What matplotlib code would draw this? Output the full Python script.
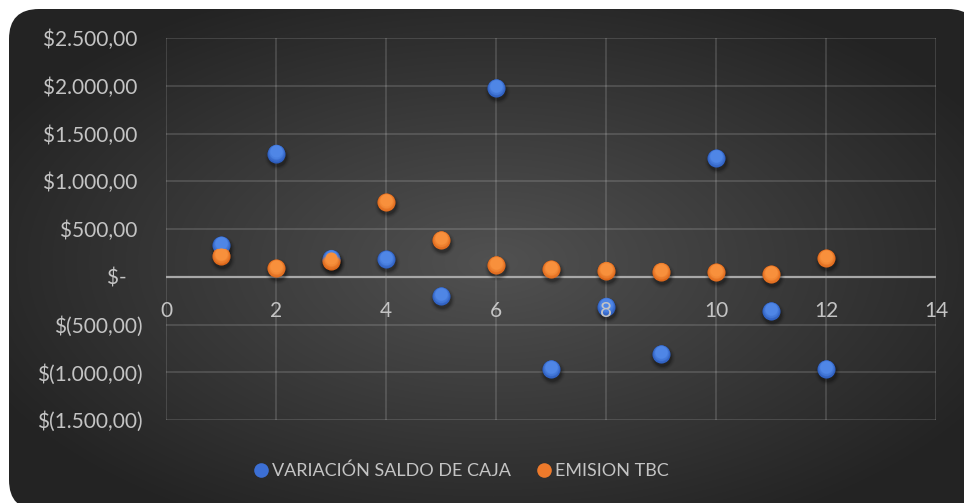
import numpy as np
import matplotlib
matplotlib.use("Agg")
import matplotlib.pyplot as plt
from matplotlib.patches import FancyBboxPatch
from matplotlib.transforms import offset_copy
from matplotlib.lines import Line2D
from matplotlib.colors import to_rgb

plt.rcParams['font.family'] = ['Lato', 'DejaVu Sans']

# Data
periodo = [1, 2, 3, 4, 5, 6, 7, 8, 9, 10, 11, 12]
variacion_saldo = [330, 1290, 190, 182, -202, 1975, -966, -312, -810, 1241, -360, -966]
emision_tbc = [220, 88, 170, 778, 384, 122, 77, 63, 52, 46, 25, 192]

x_ticks = [0, 2, 4, 6, 8, 10, 12, 14]
y_ticks = [-1500, -1000, -500, 0, 500, 1000, 1500, 2000, 2500]
y_tick_labels = ["$(1.500,00)", "$(1.000,00)", "$(500,00)", "$-   ",
                 "$500,00 ", "$1.000,00 ", "$1.500,00 ", "$2.000,00 ", "$2.500,00 "]
series_names = ["VARIACIÓN SALDO DE CAJA", "EMISION TBC"]

W, H = 964, 503
fig = plt.figure(figsize=(W / 100, H / 100), dpi=100, facecolor="white")

# Chart area: rounded panel with a radial dark gradient
bg = fig.add_axes([0, 0, 1, 1])
bg.set_xlim(0, W)
bg.set_ylim(H, 0)
bg.axis("off")
yy, xx = np.mgrid[0:H, 0:W]
cx, cy = 493, 262
d = np.sqrt(((xx - cx) / 490.0) ** 2 + ((yy - cy) / 260.0) ** 2)
d = np.clip(d, 0, 1.15) / 1.15
g = (0x51 * (1 - d) + 0x23 * d) / 255.0
img = np.dstack([g, g, g])
im = bg.imshow(img, extent=(0, W, H, 0), origin="upper", interpolation="bilinear", zorder=1)
panel = FancyBboxPatch((9, 9), 969, 501, boxstyle="round,pad=0,rounding_size=30",
                       transform=bg.transData, facecolor="none", edgecolor="none")
bg.add_patch(panel)
im.set_clip_path(panel)

# Plot area
ax = fig.add_axes([166 / W, 1 - 420 / H, (936 - 166) / W, (420 - 38) / H])
ax.set_facecolor("none")
ax.set_xlim(0, 14)
ax.set_ylim(-1500, 2500)
for sp in ax.spines.values():
    sp.set_visible(False)
ax.spines["bottom"].set_position(("data", 0))

grid_color = (1, 1, 1, 0.16)
for yv in y_ticks:
    if yv != 0:
        ax.axhline(yv, color=grid_color, lw=1.2, zorder=0.5)
for xv in x_ticks:
    ax.axvline(xv, color=grid_color, lw=1.2, zorder=0.5)
ax.axhline(0, color="#a8a8a8", lw=1.6, zorder=0.6)

label_color = "#c4c4c4"
ax.set_xticks(x_ticks)
ax.set_xticklabels([str(v) for v in x_ticks])
ax.set_yticks(y_ticks)
ax.set_yticklabels(y_tick_labels)
ax.tick_params(axis="x", length=0, pad=17.5, labelsize=15, labelcolor=label_color)
ax.tick_params(axis="y", length=0, pad=16.5, labelsize=15, labelcolor=label_color)
# tick labels sit above the markers
ax.xaxis.set_zorder(3)
ax.yaxis.set_zorder(3)


def draw_series(xs, ys, dark, light, size=170):
    # soft drop shadow
    for s, a in [(330, 0.05), (270, 0.08), (220, 0.12), (180, 0.16)]:
        ax.scatter(xs, ys, s=s, color="black", alpha=a, lw=0, zorder=1.5,
                   transform=offset_copy(ax.transData, fig=fig, x=1, y=-3, units="dots"))
    # shaded marker: darker bottom, lighter top
    c0, c1 = np.array(to_rgb(dark)), np.array(to_rgb(light))
    steps = 7
    for i in range(steps):
        t = i / (steps - 1)
        sz = size * (1 - 0.55 * t)
        col = c0 * (1 - t) + c1 * t
        ax.scatter(xs, ys, s=sz, color=col, lw=0, zorder=2 + 0.01 * i,
                   transform=offset_copy(ax.transData, fig=fig, x=0, y=2.2 * t, units="dots"))


draw_series(periodo, variacion_saldo, "#2c5cbc", "#4f86e6")
draw_series(periodo, emision_tbc, "#dc661a", "#f8903c")

handles = [
    Line2D([], [], ls="none", marker="o", markersize=10.5, markerfacecolor="#3c6fd4",
           markeredgewidth=0),
    Line2D([], [], ls="none", marker="o", markersize=10.5, markerfacecolor="#ee7a2b",
           markeredgewidth=0),
]
fig.legend(handles, series_names, loc="center", bbox_to_anchor=(462 / W, 1 - 471 / H),
           ncol=2, frameon=False, fontsize=13, labelcolor=label_color,
           handlelength=0.7, handletextpad=0.25, columnspacing=1.5)

fig.savefig("out.png", dpi=100, facecolor="white")
